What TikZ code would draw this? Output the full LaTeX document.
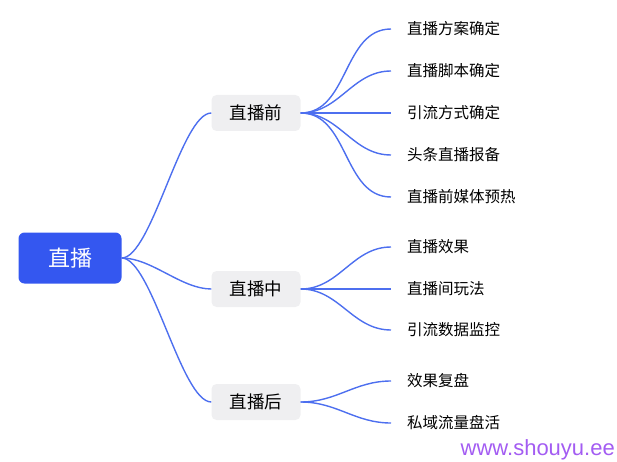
\documentclass[tikz,border=0pt]{standalone}
\usepackage{fontspec}
\setmainfont{Noto Sans CJK SC}
\newfontfamily\urlfont{Liberation Sans}
\definecolor{rootblue}{HTML}{3457F0}
\definecolor{linkblue}{HTML}{4D6FEF}
\definecolor{boxgray}{HTML}{EFEFF1}
\definecolor{markpurple}{HTML}{A35CF2}
\tikzset{
	rootbox/.style={fill=rootblue, text=white, rounded corners=6pt, minimum width=103pt, minimum height=51pt, font=\fontsize{22}{22}\selectfont},
	subbox/.style={fill=boxgray, rounded corners=5pt, minimum width=89pt, minimum height=36pt, font=\fontsize{17.5}{17.5}\selectfont},
	leaf/.style={anchor=west, inner xsep=16pt, inner ysep=2pt, font=\fontsize{15.5}{15.5}\selectfont},
	link/.style={linkblue, line width=1.4pt},
}
\begin{document}
\begin{tikzpicture}[x=1pt, y=-1pt]
	\useasboundingbox (0,0) rectangle (617,462);
	\node[rootbox] (live) at (70,258) {直播};
	\node[subbox] (before) at (256,113) {直播前};
	\node[subbox] (during) at (256,289) {直播中};
	\node[subbox] (after) at (256,402) {直播后};
	\foreach \s in {before,during,after}
		\draw[link] (live.east) .. controls +(30,0) and +(-30,0) .. (\s.west);
	\foreach \n/\y/\t in {b1/29/直播方案确定, b2/71/直播脚本确定, b3/113/引流方式确定, b4/155/头条直播报备, b5/197/直播前媒体预热}{
		\node[leaf] (\n) at (391,\y) {\t};
		\draw[link] (before.east) to[out=0, in=180] (\n.west);
	}
	\foreach \n/\y/\t in {d1/247/直播效果, d2/289/直播间玩法, d3/330/引流数据监控}{
		\node[leaf] (\n) at (391,\y) {\t};
		\draw[link] (during.east) to[out=0, in=180] (\n.west);
	}
	\foreach \n/\y/\t in {a1/381/效果复盘, a2/423/私域流量盘活}{
		\node[leaf] (\n) at (391,\y) {\t};
		\draw[link] (after.east) to[out=0, in=180] (\n.west);
	}
	\node[anchor=base east, inner sep=0pt, text=markpurple, font=\urlfont\fontsize{22}{22}\selectfont] (site) at (615,455) {www.shouyu.ee};
\end{tikzpicture}
\end{document}
